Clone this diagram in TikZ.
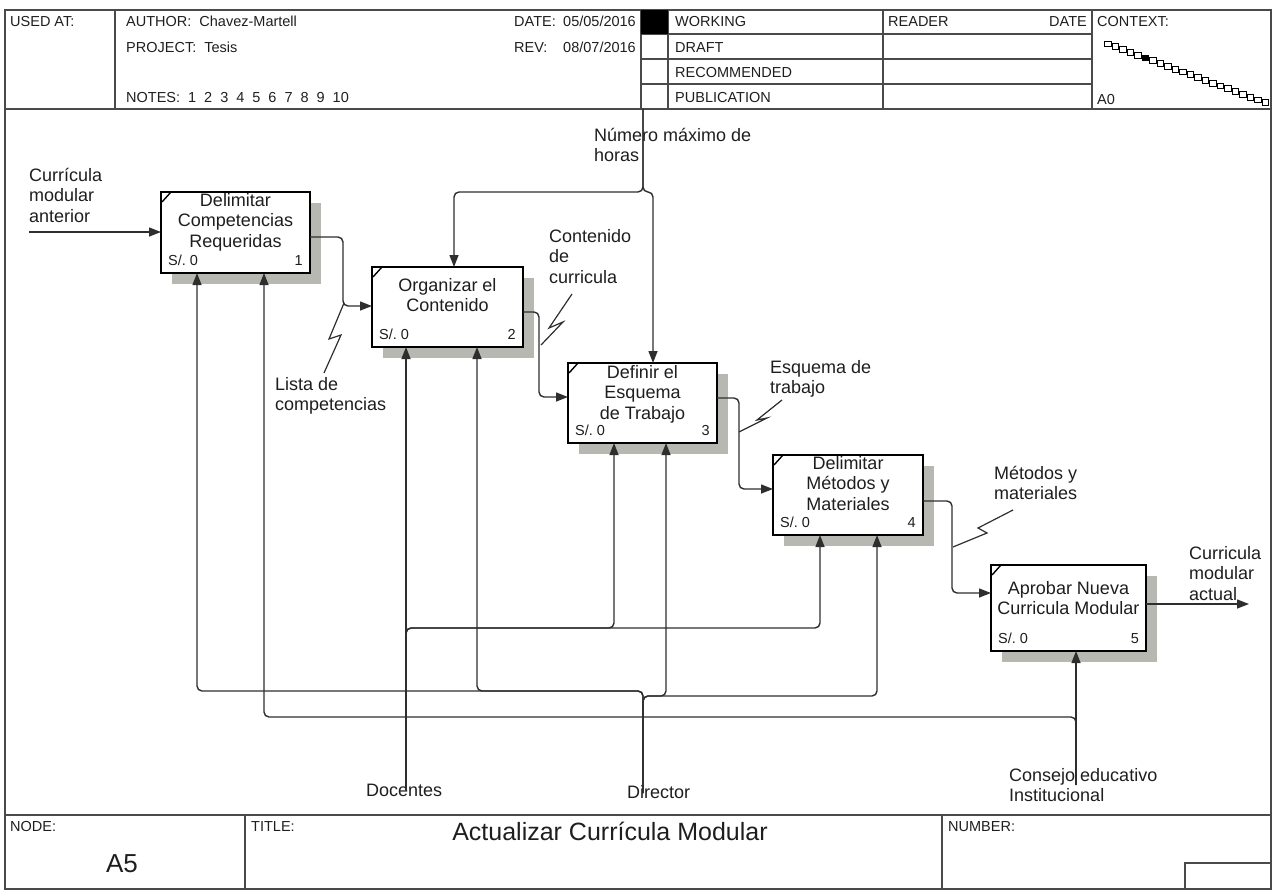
\documentclass[tikz,border=0pt]{standalone}
\usepackage{fontspec}
\setmainfont{Liberation Sans}
\usetikzlibrary{arrows.meta,calc,shadows}

\definecolor{ink}{HTML}{1E1E1E}
\definecolor{rulegray}{HTML}{4A4A4A}
\definecolor{wire}{HTML}{2E2E2E}
\definecolor{shade}{HTML}{B8B8B3}

% strut that fixes the height of the first line of a label
\newcommand\lstrut{\rule{0pt}{18pt}}

\begin{document}
\begin{tikzpicture}[x=1pt,y=-1pt,
  lbl/.style={font=\fontsize{18}{20.7}\selectfont, text=ink, inner sep=0pt, align=left, anchor=north west},
  boxtxt/.style={font=\fontsize{18}{20.7}\selectfont, text=ink, inner sep=0pt, align=center, anchor=north},
  small/.style={font=\fontsize{14.5}{17}\selectfont, text=ink, inner sep=0pt},
  act/.style={draw=black, line width=2pt, fill=white, anchor=north west, inner sep=0pt, outer sep=0pt,
    general shadow={fill=shade, shadow xshift=11pt, shadow yshift=-11pt}},
  flow/.style={draw=wire, line width=1.4pt, rounded corners=5pt, -{Triangle[length=12pt,width=9pt]}},
  zig/.style={draw=wire, line width=1.2pt},
  frame/.style={draw=rulegray, line width=1.4pt},
  tick/.style={draw=black, line width=1.4pt}]

\useasboundingbox (0,0) rectangle (1274,894);

% ---------- sheet frame and header ----------
\draw[frame] (5,10) rectangle (1271,889);
\draw[frame] (5,109) -- (1271,109);
\draw[frame] (5,815) -- (1271,815);
\foreach \xx in {115,641,668,883,1092} \draw[frame] (\xx,10) -- (\xx,109);
\foreach \yy in {34,59,84} \draw[frame] (641,\yy) -- (1092,\yy);
\fill[black] (641,10) rectangle (668,34);

\node[small, anchor=base west] (usedat) at (10,27) {USED AT:};
\node[small, anchor=base west] (author) at (126,27) {AUTHOR:\hskip8pt Chavez-Martell};
\node[small, anchor=base west] (project) at (126,52) {PROJECT:\hskip8pt Tesis};
\node[small, anchor=base west] (notes) at (126,102) {NOTES:\hskip8pt 1\hskip8pt 2\hskip8pt 3\hskip8pt 4\hskip8pt 5\hskip8pt 6\hskip8pt 7\hskip8pt 8\hskip8pt 9\hskip8pt 10};
\node[small, anchor=base west] (datelbl) at (514,27) {DATE:};
\node[small, anchor=base east] (dateval) at (636,27) {05/05/2016};
\node[small, anchor=base west] (revlbl) at (514,52) {REV:};
\node[small, anchor=base east] (revval) at (636,52) {08/07/2016};
\node[small, anchor=base west] (working) at (675,27) {WORKING};
\node[small, anchor=base west] (draft) at (675,52) {DRAFT};
\node[small, anchor=base west] (recommended) at (675,77) {RECOMMENDED};
\node[small, anchor=base west] (publication) at (675,102) {PUBLICATION};
\node[small, anchor=base west] (reader) at (888,27) {READER};
\node[small, anchor=base east] (readerdate) at (1087,27) {DATE};
\node[small, anchor=base west] (context) at (1097,27) {CONTEXT:};
\node[small, anchor=base west] (azero) at (1097,104) {A0};

% context chain of small squares
\foreach \i in {0,...,21} {
  \pgfmathsetmacro\cx{1108+7.5*\i}
  \pgfmathsetmacro\cy{44+2.8*\i}
  \draw[line width=1pt, fill=white] (\cx-3.2,\cy-2.9) rectangle (\cx+3.2,\cy+2.9);
}
\fill[black] (1145.5-3.2,58-2.9) rectangle (1145.5+3.2,58+2.9);

% ---------- title block ----------
\draw[frame] (245,815) -- (245,889);
\draw[frame] (942,815) -- (942,889);
\draw[frame] (1185,889) |- (1271,863);
\node[small, anchor=base west] (nodelbl) at (10,831) {NODE:};
\node[small, anchor=base west] (titlelbl) at (251,831) {TITLE:};
\node[small, anchor=base west] (numberlbl) at (948,831) {NUMBER:};
\node[font=\fontsize{26}{30}\selectfont, text=ink, inner sep=0pt, anchor=base] (nodeid) at (122,872) {A5};
\node[font=\fontsize{25}{30}\selectfont, text=ink, inner sep=0pt, anchor=base] (title) at (610,840) {Actualizar Currícula Modular};

% ---------- activity boxes ----------
\node[act, minimum width=149pt, minimum height=81pt] (b1) at (161,192) {};
\node[act, minimum width=151pt, minimum height=80pt] (b2) at (372,267) {};
\node[act, minimum width=149pt, minimum height=80pt] (b3) at (568,363) {};
\node[act, minimum width=150pt, minimum height=80pt] (b4) at (773,455) {};
\node[act, minimum width=155pt, minimum height=86pt] (b5) at (991,565) {};

\foreach \b in {b1,b2,b3,b4,b5}
  \draw[tick] ($(\b.north west)+(1,10)$) -- ++(9,-10);

\node[boxtxt] (t1) at ($(b1.north)+(0,-4)$) {\lstrut Delimitar\\Competencias\\Requeridas};
\node[boxtxt] (t2) at ($(b2.north)+(0,6)$) {\lstrut Organizar el\\Contenido};
\node[boxtxt] (t3) at ($(b3.north)+(0,-3)$) {\lstrut Definir el\\Esquema\\de Trabajo};
\node[boxtxt] (t4) at ($(b4.north)+(0,-4)$) {\lstrut Delimitar\\Métodos y\\Materiales};
\node[boxtxt] (t5) at ($(b5.north)+(0,11)$) {\lstrut Aprobar Nueva\\Curricula Modular};

\foreach \b/\n in {b1/1,b2/2,b3/3,b4/4,b5/5} {
  \node[small, anchor=base west] (\b cost) at ($(\b.south west)+(7,-8)$) {S/.\ 0};
  \node[small, anchor=base east] (\b num) at ($(\b.south east)+(-7,-8)$) {\n};
}

% ---------- arrow labels ----------
\node[lbl] (lin) at (29,163) {\lstrut Currícula\\modular\\anterior};
\node[lbl] (llista) at (275,372) {\lstrut Lista de\\competencias};
\node[lbl] (lhoras) at (594,123) {\lstrut Número máximo de\\horas};
\node[lbl] (lcont) at (549,224) {\lstrut Contenido\\de\\curricula};
\node[lbl] (lesq) at (770,355) {\lstrut Esquema de\\trabajo};
\node[lbl] (lmet) at (994,461) {\lstrut Métodos y\\materiales};
\node[lbl] (lout) at (1189,541) {\lstrut Curricula\\modular\\actual};
\node[lbl] (ldoc) at (366,778) {\lstrut Docentes};
\node[lbl] (ldir) at (627,780) {\lstrut Director};
\node[lbl] (lcon) at (1009,763) {\lstrut Consejo educativo\\Institucional};

% ---------- free ends of the boundary arrows ----------
\coordinate (inStart) at (29,232);
\coordinate (outEnd) at (1249,604);
\coordinate (horasEnd) at (643,109);
\coordinate (docEnd) at (406,790);
\coordinate (dirEnd) at (643,793);
\coordinate (conEnd) at (1076,785);

% inputs and outputs
\draw[flow] (inStart) -- (inStart -| b1.west);
\draw[flow] ($(b1.north east)+(0,45)$) -- ++(33,0) |- ($(b2.north west)+(0,39)$);
\draw[flow] ($(b2.north east)+(0,45)$) -- ++(16,0) |- ($(b3.north west)+(0,34)$);
\draw[flow] ($(b3.north east)+(0,35)$) -- ++(22,0) |- ($(b4.north west)+(0,34)$);
\draw[flow] ($(b4.north east)+(0,46)$) -- ++(29,0) |- ($(b5.north west)+(0,28)$);
\draw[flow] (outEnd -| b5.east) -- (outEnd);

% controls
\draw[flow] (horasEnd) -- ++(0,83) -| ($(b2.north west)+(82,0)$);
\draw[flow] (horasEnd) -- ++(0,83) -- ++(10,0) -- ($(b3.north west)+(85,0)$);

% mechanisms
\draw[flow] (docEnd) -- (docEnd |- b2.south);
\draw[flow] (docEnd) -- ++(0,-162) -| ($(b3.south west)+(46,0)$);
\draw[flow] (docEnd) -- ++(0,-162) -| ($(b4.south west)+(47,0)$);
\draw[flow] (dirEnd) -- ++(0,-102) -| ($(b1.south west)+(36,0)$);
\draw[flow] (dirEnd) -- ++(0,-102) -| ($(b2.south west)+(105,0)$);
\draw[flow] (dirEnd) -- ++(0,-97) -| ($(b3.south west)+(98,0)$);
\draw[flow] (dirEnd) -- ++(0,-97) -| ($(b4.south west)+(104,0)$);
\draw[flow] (conEnd) -- (conEnd |- b5.south);
\draw[flow] (conEnd) -- ++(0,-68) -| ($(b1.south west)+(103,0)$);

% squiggles tying labels to their arrows
\draw[zig] (344,303) -- (329,339) -- (341,335) -- (324,373);
\draw[zig] (541,345) -- (563,322) -- (549,328) -- (572,294);
\draw[zig] (739,432) -- (767,418) -- (757,420) -- (782,400);
\draw[zig] (953,547) -- (987,533) -- (978,528) -- (1013,510);

\end{tikzpicture}
\end{document}
